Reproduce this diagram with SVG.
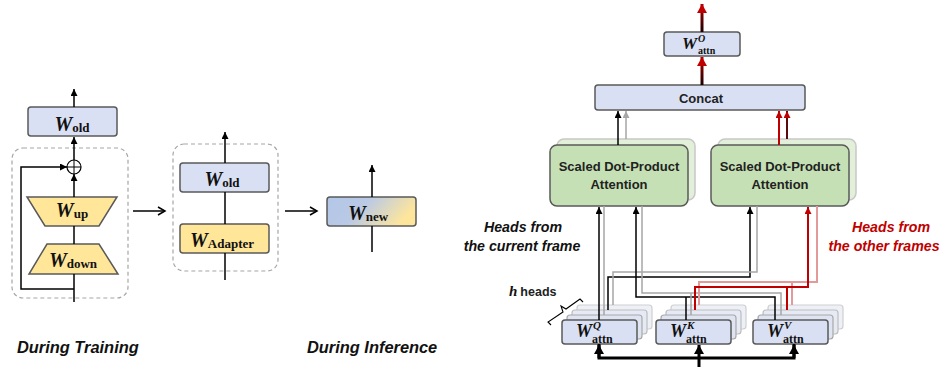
<svg xmlns="http://www.w3.org/2000/svg" width="947" height="367" viewBox="0 0 947 367">
  <style>
    .box{fill:#dae0f3;stroke:#595959;stroke-width:1.5}
    .yel{fill:#ffe699;stroke:#595959;stroke-width:1.5}
    .grn{fill:#c5e0b4;stroke:#595959;stroke-width:1.5}
    .grnS{fill:#e2efd9;stroke:#c8c8c8;stroke-width:1.5}
    .dash{fill:none;stroke:#a6a6a6;stroke-width:1.2;stroke-dasharray:4 3}
    .l3{fill:#eef0f7;stroke:#cfcfcf;stroke-width:1.2}
    .l2{fill:#e6eaf5;stroke:#bdbdbd;stroke-width:1.2}
    .l1{fill:#dfe4f3;stroke:#a8a8a8;stroke-width:1.2}
    .w{font-family:"Liberation Serif",serif;font-style:italic;font-weight:bold;fill:#111}
    .sub{font-family:"Liberation Serif",serif;font-weight:bold;font-style:normal;fill:#111}
    .lab{font-family:"Liberation Sans",Arial,sans-serif;font-weight:bold;fill:#222}
    .cap{font-family:"Liberation Sans",Arial,sans-serif;font-weight:bold;font-style:italic;fill:#111}
    .red{fill:#c00000}
    .k{fill:none;stroke:#000;stroke-width:1.5}
    .g{fill:none;stroke:#a6a6a6;stroke-width:1.5}
    .r{fill:none;stroke:#c00000;stroke-width:2}
    .lr{fill:none;stroke:#e39a9a;stroke-width:2}
    .thk{fill:none;stroke:#000;stroke-width:3}
  </style>
  <defs>
    <marker id="ak" markerUnits="userSpaceOnUse" markerWidth="8" markerHeight="7" refX="7" refY="3.5" orient="auto">
      <path d="M0,0 L7,3.5 L0,7 z" fill="#000"/>
    </marker>
    <marker id="ag" markerUnits="userSpaceOnUse" markerWidth="8" markerHeight="7" refX="7" refY="3.5" orient="auto">
      <path d="M0,0 L7,3.5 L0,7 z" fill="#a6a6a6"/>
    </marker>
    <marker id="ar" markerUnits="userSpaceOnUse" markerWidth="8" markerHeight="7" refX="7" refY="3.5" orient="auto">
      <path d="M0,0 L7,3.5 L0,7 z" fill="#c00000"/>
    </marker>
    <marker id="aopen" markerUnits="userSpaceOnUse" markerWidth="10" markerHeight="10" refX="8" refY="5" orient="auto">
      <path d="M1,1 L8,5 L1,9" fill="none" stroke="#000" stroke-width="1.5"/>
    </marker>
    <marker id="akb" markerUnits="userSpaceOnUse" markerWidth="11" markerHeight="10" refX="9" refY="5" orient="auto">
      <path d="M0,0 L9,5 L0,10 z" fill="#000"/>
    </marker>
    <marker id="arb" markerUnits="userSpaceOnUse" markerWidth="11" markerHeight="10" refX="9" refY="5" orient="auto">
      <path d="M0,0 L9,5 L0,10 z" fill="#c00000"/>
    </marker>
    <linearGradient id="newGrad" x1="0" y1="0" x2="1" y2="0.3">
      <stop offset="0" stop-color="#b4c7e7"/>
      <stop offset="0.45" stop-color="#b9c9e6"/>
      <stop offset="1" stop-color="#fde59c"/>
    </linearGradient>
    <linearGradient id="outA" gradientUnits="userSpaceOnUse" x1="0" y1="85" x2="0" y2="58">
      <stop offset="0" stop-color="#1a0000"/>
      <stop offset="1" stop-color="#b00000"/>
    </linearGradient>
    <linearGradient id="outB" gradientUnits="userSpaceOnUse" x1="0" y1="32" x2="0" y2="5">
      <stop offset="0" stop-color="#1a0000"/>
      <stop offset="1" stop-color="#b00000"/>
    </linearGradient>
  </defs>

  <!-- ===== Training: adapter beside frozen weight ===== -->
  <g id="train-frame"><rect class="dash" x="12" y="148" width="116" height="150" rx="11"/></g>
  <g id="train-wold">
    <rect class="box" x="28" y="107" width="89" height="29" rx="3"/>
    <text x="72" y="131" text-anchor="middle"><tspan class="w" font-size="20">W</tspan><tspan class="sub" font-size="13" dy="1">old</tspan></text>
  </g>
  <g id="train-sum">
    <circle cx="74" cy="167" r="7" fill="#fff" stroke="#000" stroke-width="1.2"/>
    <path d="M67,167 H81 M74,160 V174" stroke="#000" stroke-width="1" fill="none"/>
  </g>
  <g id="train-wup">
    <polygon class="yel" points="27,197 117,197 99,226 45,226"/>
    <text x="72" y="217" text-anchor="middle"><tspan class="w" font-size="20">W</tspan><tspan class="sub" font-size="13" dy="1">up</tspan></text>
  </g>
  <g id="train-wdown">
    <polygon class="yel" points="47,244 99,244 118,274 29,274"/>
    <text x="73" y="267" text-anchor="middle"><tspan class="w" font-size="20">W</tspan><tspan class="sub" font-size="13" dy="1">down</tspan></text>
  </g>

  <!-- ===== Inference: adapter merged ===== -->
  <g id="infer-frame"><rect class="dash" x="173" y="144" width="105" height="127" rx="11"/></g>
  <g id="infer-wold">
    <rect class="box" x="180" y="163" width="89" height="29" rx="3"/>
    <text x="222" y="186" text-anchor="middle"><tspan class="w" font-size="20">W</tspan><tspan class="sub" font-size="13" dy="1">old</tspan></text>
  </g>
  <g id="infer-adapter">
    <rect class="yel" x="180" y="224" width="89" height="29" rx="3"/>
    <text x="222" y="247" text-anchor="middle"><tspan class="w" font-size="20">W</tspan><tspan class="sub" font-size="13" dy="1">Adapter</tspan></text>
  </g>
  <g id="wnew">
    <rect x="327" y="197" width="89" height="29" rx="3" fill="url(#newGrad)" stroke="#595959" stroke-width="1.5"/>
    <text x="368" y="220" text-anchor="middle"><tspan class="w" font-size="20">W</tspan><tspan class="sub" font-size="13" dy="1">new</tspan></text>
  </g>

  <g id="captions">
    <text class="cap" x="17" y="353" font-size="16.4">During Training</text>
    <text class="cap" x="307" y="353" font-size="16.4">During Inference</text>
  </g>

  <!-- ===== Attention with shared heads ===== -->
  <g id="wo">
    <rect class="box" x="664" y="32" width="76" height="24" rx="3"/>
    <text class="w" x="682" y="49" font-size="17">W</text>
    <text class="w" x="698" y="42" font-size="10">O</text>
    <text class="sub" x="698" y="54" font-size="10">attn</text>
  </g>
  <g id="concat">
    <rect class="box" x="595" y="85" width="210" height="25" rx="3"/>
    <text class="lab" x="701" y="103" font-size="13" text-anchor="middle">Concat</text>
  </g>
  <g id="sdpa-left">
    <rect class="grnS" x="557" y="139" width="138" height="61" rx="7"/>
    <rect class="grn" x="550" y="145" width="138" height="61" rx="7"/>
    <text class="lab" x="619" y="171" font-size="13" text-anchor="middle">Scaled Dot-Product</text>
    <text class="lab" x="619" y="189" font-size="13" text-anchor="middle">Attention</text>
  </g>
  <g id="sdpa-right">
    <rect class="grnS" x="718" y="139" width="138" height="61" rx="7"/>
    <rect class="grn" x="711" y="145" width="138" height="61" rx="7"/>
    <text class="lab" x="780" y="171" font-size="13" text-anchor="middle">Scaled Dot-Product</text>
    <text class="lab" x="780" y="189" font-size="13" text-anchor="middle">Attention</text>
  </g>
  <g id="wq">
    <rect class="l3" x="577" y="305" width="75" height="24" rx="3"/>
    <rect class="l2" x="572" y="310" width="75" height="24" rx="3"/>
    <rect class="l1" x="567" y="315" width="75" height="24" rx="3"/>
    <rect class="box" x="562" y="320" width="75" height="24" rx="3"/>
    <text class="w" x="576" y="337" font-size="18">W</text>
    <text class="w" x="593" y="328.5" font-size="11">Q</text>
    <text class="sub" x="592" y="342.5" font-size="12">attn</text>
  </g>
  <g id="wk">
    <rect class="l3" x="671" y="305" width="75" height="24" rx="3"/>
    <rect class="l2" x="666" y="310" width="75" height="24" rx="3"/>
    <rect class="l1" x="661" y="315" width="75" height="24" rx="3"/>
    <rect class="box" x="656" y="320" width="75" height="24" rx="3"/>
    <text class="w" x="670" y="337" font-size="18">W</text>
    <text class="w" x="687" y="328.5" font-size="11">K</text>
    <text class="sub" x="686" y="342.5" font-size="12">attn</text>
  </g>
  <g id="wv">
    <rect class="l3" x="768" y="305" width="75" height="24" rx="3"/>
    <rect class="l2" x="763" y="310" width="75" height="24" rx="3"/>
    <rect class="l1" x="758" y="315" width="75" height="24" rx="3"/>
    <rect class="box" x="753" y="320" width="75" height="24" rx="3"/>
    <text class="w" x="767" y="337" font-size="18">W</text>
    <text class="w" x="784" y="328.5" font-size="11">V</text>
    <text class="sub" x="783" y="342.5" font-size="12">attn</text>
  </g>
  <g id="heads-label">
    <text x="509" y="296"><tspan class="w" font-size="15">h</tspan><tspan class="lab" font-size="12.5" dx="3">heads</tspan></text>
    <path d="M551,325 L548,322 L563,312 L561,306 L566,309 L580,299 L583,302" fill="none" stroke="#000" stroke-width="1.1"/>
  </g>
  <g id="frame-labels">
    <text class="cap" x="523" y="232" font-size="14.2" text-anchor="middle">Heads from</text>
    <text class="cap" x="522" y="251" font-size="14.2" text-anchor="middle">the current frame</text>
    <text class="cap red" x="891" y="232" font-size="14.2" text-anchor="middle" style="fill:#c00000">Heads from</text>
    <text class="cap red" x="884" y="251" font-size="14.2" text-anchor="middle" style="fill:#c00000">the other frames</text>
  </g>

  <!-- ===== Connectors ===== -->
  <g id="connectors">
    <!-- training -->
    <path class="k" d="M74,107 V89" marker-end="url(#ak)"/>
    <path class="k" d="M74,160 V137" marker-end="url(#ak)"/>
    <path class="k" d="M74,197 V174" marker-end="url(#ak)"/>
    <path class="k" d="M74,226 V244"/>
    <path class="k" d="M74,274 V302"/>
    <path class="k" d="M74,289 H21 V167 H67" marker-end="url(#ak)"/>
    <path class="k" d="M133,211 H165" marker-end="url(#aopen)"/>
    <!-- inference -->
    <path class="k" d="M225,163 V132" marker-end="url(#ak)"/>
    <path class="k" d="M225,192 V224"/>
    <path class="k" d="M225,253 V280"/>
    <path class="k" d="M285,211 H317" marker-end="url(#aopen)"/>
    <path class="k" d="M372,197 V165" marker-end="url(#ak)"/>
    <path class="k" d="M372,226 V252"/>

    <!-- inputs to Q/K/V -->
    <path class="thk" d="M699,367 V358"/>
    <path class="thk" d="M599,344 V358 H794 V344"/>
    <path class="thk" d="M599,358 V345" marker-end="url(#akb)"/>
    <path class="thk" d="M699,358 V345" marker-end="url(#akb)"/>
    <path class="thk" d="M794,358 V345" marker-end="url(#akb)"/>

    <!-- Q heads -->
    <path class="k" d="M599,320 V207" marker-end="url(#ak)"/>
    <path class="g" d="M604,315 V206"/>
    <path class="k" d="M608,310 V277 H750 V207" marker-end="url(#ak)"/>
    <path class="g" d="M613,305 V272 H757 V206"/>

    <!-- K/V heads, current frame -->
    <path class="k" d="M686,320 V297"/>
    <path class="k" d="M775,320 V297 H636 V207" marker-end="url(#ak)"/>
    <path class="g" d="M691,315 V293"/>
    <path class="g" d="M781,315 V293 H642 V206"/>

    <!-- K/V heads, other frames -->
    <path class="lr" d="M699,305 V282 H817 V206"/>
    <path class="lr" d="M792,305 V282"/>
    <path class="r" d="M695,310 V287 H808 V207" marker-end="url(#ar)"/>
    <path class="r" d="M787,310 V287"/>

    <!-- attention outputs to concat -->
    <path class="k" d="M618,145 V111" marker-end="url(#ak)"/>
    <path class="g" d="M626,139 V111" marker-end="url(#ag)"/>
    <path class="r" d="M779,145 V111" marker-end="url(#ar)"/>
    <path fill="none" stroke="#5a0a0a" stroke-width="2" d="M787,139 V111" marker-end="url(#ar)"/>

    <!-- output projection -->
    <path fill="none" stroke="url(#outA)" stroke-width="3" d="M702,85 V57" marker-end="url(#arb)"/>
    <path fill="none" stroke="url(#outB)" stroke-width="3" d="M702,32 V4" marker-end="url(#arb)"/>
  </g>
</svg>
